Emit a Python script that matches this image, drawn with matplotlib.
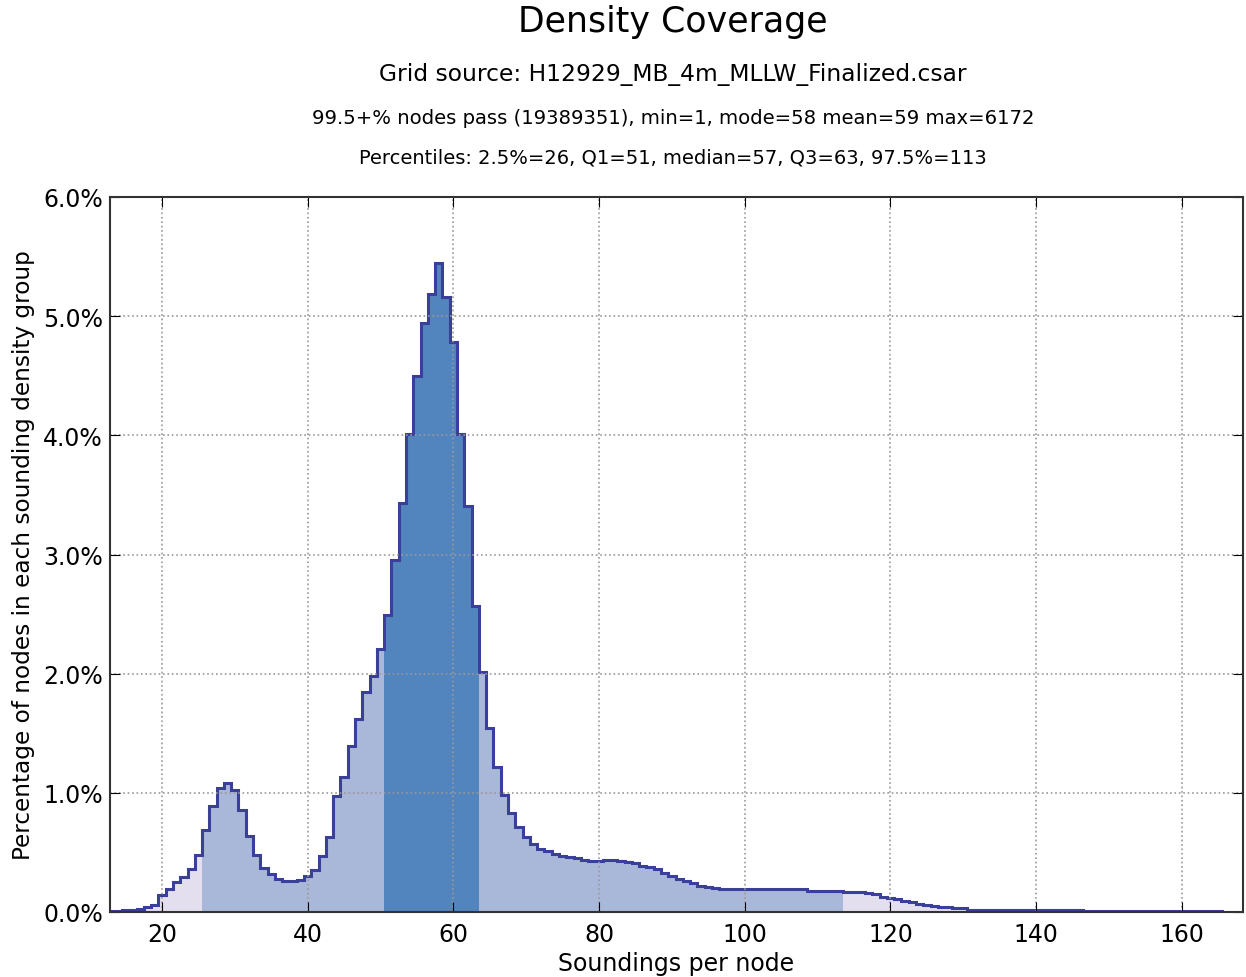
import numpy as np
import matplotlib.pyplot as plt

# soundings per node (bin centres) and percentage of nodes in each bin
soundings = list(range(13, 166))
pct = [
    0.01, 0.01, 0.015, 0.015, 0.025, 0.04, 0.06,            # 13-19
    0.14, 0.19, 0.25, 0.29, 0.36, 0.48, 0.69, 0.89, 1.04, 1.08,  # 20-29
    1.02, 0.86, 0.64, 0.48, 0.37, 0.32, 0.28, 0.26, 0.26, 0.27,  # 30-39
    0.30, 0.35, 0.47, 0.63, 0.97, 1.13, 1.39, 1.62, 1.85, 1.98,  # 40-49
    2.21, 2.49, 2.95, 3.43, 4.01, 4.50, 4.94, 5.19, 5.45, 5.16,  # 50-59
    4.78, 4.01, 3.41, 2.57, 2.01, 1.54, 1.22, 0.98, 0.83, 0.71,  # 60-69
    0.63, 0.57, 0.53, 0.51, 0.49, 0.47, 0.46, 0.45, 0.44, 0.43,  # 70-79
    0.43, 0.44, 0.44, 0.43, 0.42, 0.41, 0.39, 0.38, 0.36, 0.33,  # 80-89
    0.30, 0.28, 0.26, 0.24, 0.22, 0.21, 0.20, 0.195, 0.195, 0.195,  # 90-99
    0.195, 0.195, 0.195, 0.195, 0.195, 0.195, 0.19, 0.19, 0.19, 0.18,  # 100-109
    0.18, 0.18, 0.18, 0.18, 0.17, 0.17, 0.17, 0.16, 0.15, 0.13,  # 110-119
    0.12, 0.11, 0.09, 0.08, 0.07, 0.06, 0.05, 0.045, 0.04, 0.03,  # 120-129
    0.03, 0.02, 0.02, 0.02, 0.02, 0.017, 0.017, 0.017, 0.017, 0.017,  # 130-139
    0.013, 0.013, 0.013, 0.013, 0.013, 0.013, 0.013, 0.005, 0.005, 0.005,  # 140-149
    0.005, 0.005, 0.005, 0.005, 0.005, 0.005, 0.005, 0.005, 0.005, 0.005,  # 150-159
    0.005, 0.005, 0.005, 0.005, 0.005, 0.005,  # 160-165
]

p025, q1, q3, p975 = 26, 51, 63, 113

title = "Density Coverage"
line2 = "Grid source: H12929_MB_4m_MLLW_Finalized.csar"
line3 = "99.5+% nodes pass (19389351), min=1, mode=58 mean=59 max=6172"
line4 = "Percentiles: 2.5%=26, Q1=51, median=57, Q3=63, 97.5%=113"

c_tail = '#e4dfee'
c_mid = '#a9b8d8'
c_iqr = '#5284bd'
c_edge = '#3a3f9c'

soundings = np.array(soundings)
pct = np.array(pct)
edges = np.append(soundings - 0.5, soundings[-1] + 0.5)

fig = plt.figure(figsize=(12.46, 9.78), dpi=100)
ax = fig.add_axes([110/1246, 1 - 913/978, 1133/1246, 715/978])

#fill each region between the percentiles
groups = [(soundings[0], p025 - 1, c_tail), (p025, q1 - 1, c_mid), (q1, q3, c_iqr),
          (q3 + 1, p975, c_mid), (p975 + 1, soundings[-1], c_tail)]
for lo, hi, col in groups:
    i = int(np.searchsorted(soundings, lo))
    j = int(np.searchsorted(soundings, hi)) + 1
    ax.stairs(pct[i:j], edges[i:j + 1], fill=True, color=col, lw=0)
ax.stairs(pct, edges, color=c_edge, lw=2.2)

ax.set_xlim(12.86, 168.4)
ax.set_ylim(0, 6)
ax.set_xticks([20, 40, 60, 80, 100, 120, 140, 160])
ax.set_yticks([0, 1, 2, 3, 4, 5, 6])
ax.set_yticklabels(['%.1f%%' % v for v in [0, 1, 2, 3, 4, 5, 6]])
ax.grid(True, linestyle=':', color='#999999', lw=1.2)
ax.tick_params(direction='in', top=True, right=True, labelsize=17, length=7)
ax.tick_params(axis='x', pad=7)
ax.tick_params(axis='y', pad=5)
for s in ax.spines.values():
    s.set_color('#333333')
    s.set_linewidth(1.5)
ax.set_xlabel('Soundings per node', fontsize=17, labelpad=4)
ax.set_ylabel('Percentage of nodes in each sounding density group', fontsize=16.7, labelpad=6)

fig.text(0.54, 1 - 22/978, title, ha='center', va='center', fontsize=25)
fig.text(0.54, 1 - 74/978, line2, ha='center', va='center', fontsize=16.8)
fig.text(0.54, 1 - 118/978, line3, ha='center', va='center', fontsize=14.1)
fig.text(0.54, 1 - 158/978, line4, ha='center', va='center', fontsize=14)

fig.savefig('out.png', dpi=100)
